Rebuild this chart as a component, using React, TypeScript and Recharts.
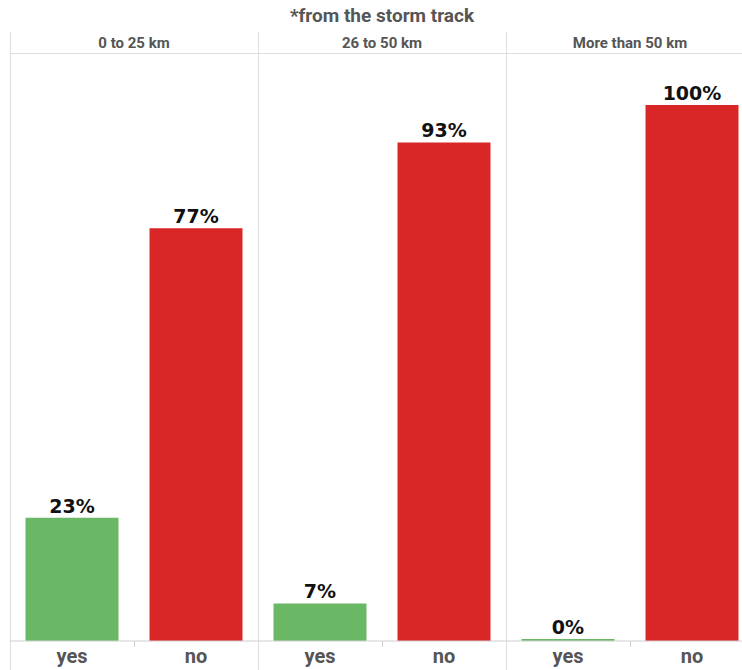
import { BarChart, Bar, XAxis, YAxis, Cell, LabelList } from 'recharts';

const distanceBands = ['0 to 25 km', '26 to 50 km', 'More than 50 km'];
const answers = ['yes', 'no'];
const yesShare = [23, 7, 0];
const noShare = [77, 93, 100];
const answerColors = ['#6ab766', '#d92626'];

const PANEL_W = 248;
const narrow = '"Liberation Sans Narrow", "Roboto", sans-serif';

export default function App() {
  return (
    <div
      style={{
        position: 'absolute',
        left: 0,
        top: 0,
        width: 742,
        height: 670,
        overflow: 'hidden',
        background: '#fff',
        fontFamily: narrow,
      }}
    >
      {/* subtitle (main title sits above the visible area) */}
      <div
        style={{
          position: 'absolute',
          left: 10,
          width: 744,
          top: 4,
          textAlign: 'center',
          fontSize: 19,
          fontWeight: 'bold',
          color: '#555',
        }}
      >
        *from the storm track
      </div>

      {/* header row bottom rule and baseline */}
      <div style={{ position: 'absolute', left: 10, top: 53, width: 744, height: 1, background: '#dedede' }} />

      {distanceBands.map((band, i) => {
        const data = answers.map((a, j) => ({
          answer: a,
          share: j === 0 ? yesShare[i] : noShare[i],
        }));
        const left = 10 + i * PANEL_W;
        return (
          <div key={band} style={{ position: 'absolute', left, top: 32, width: PANEL_W, height: 638 }}>
            <div style={{ position: 'absolute', left: 0, top: 0, width: 1, height: 638, background: '#dedede' }} />
            <div
              style={{
                position: 'absolute',
                left: 0,
                top: 2,
                width: PANEL_W,
                textAlign: 'center',
                fontSize: 15,
                fontWeight: 'bold',
                color: '#555',
              }}
            >
              {band}
            </div>
            <div style={{ position: 'absolute', left: 0, top: 22 }}>
              <BarChart
                width={PANEL_W}
                height={616}
                data={data}
                margin={{ top: 0, right: 0, left: 0, bottom: 0 }}
                barCategoryGap="12.5%"
              >
                <XAxis
                  dataKey="answer"
                  height={29}
                  interval={0}
                  tickLine={false}
                  axisLine={{ stroke: '#cfcfcf' }}
                  tick={{ fill: '#555', fontSize: 20, fontWeight: 'bold', fontFamily: narrow }}
                />
                <YAxis hide domain={[0, 109.5]} />
                <Bar dataKey="share" isAnimationActive={false} minPointSize={2}>
                  {data.map((d, j) => (
                    <Cell key={d.answer} fill={answerColors[j]} />
                  ))}
                  <LabelList
                    dataKey="share"
                    position="top"
                    formatter={(v: number) => `${v}%`}
                    style={{ fill: '#111', fontSize: 19, fontWeight: 'bold', fontFamily: '"DejaVu Sans", sans-serif' }}
                  />
                </Bar>
              </BarChart>
            </div>
            {/* small divider tick between yes and no */}
            <div style={{ position: 'absolute', left: PANEL_W / 2, top: 609, width: 1, height: 6, background: '#cfcfcf' }} />
          </div>
        );
      })}
    </div>
  );
}
